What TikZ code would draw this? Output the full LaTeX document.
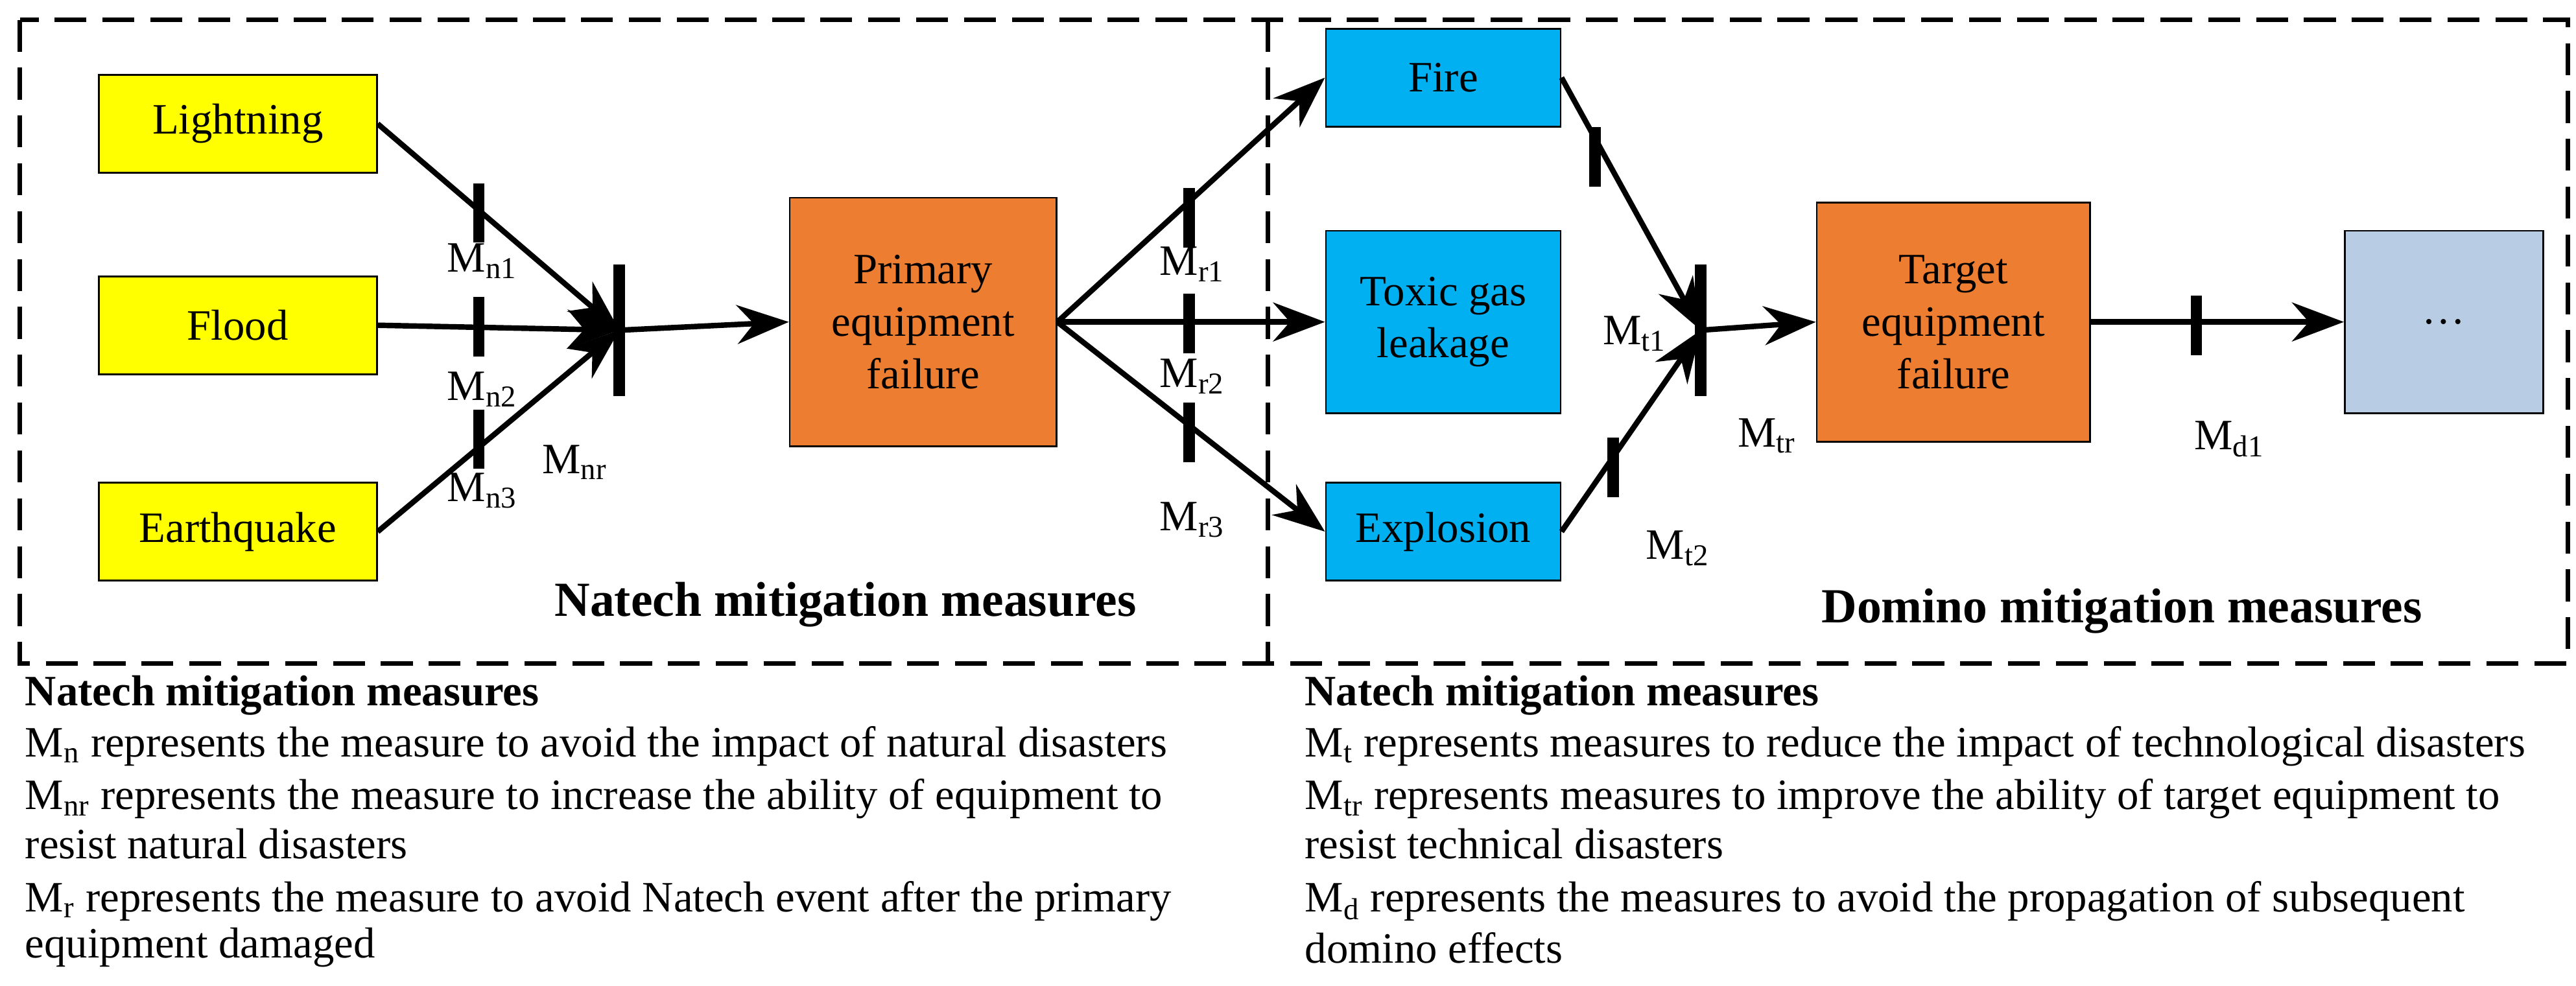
\documentclass[tikz,border=0pt]{standalone}
\usepackage{fontspec}
\setmainfont{Liberation Serif}
\usetikzlibrary{arrows.meta,positioning}
\definecolor{hazyellow}{RGB}{255,255,0}
\definecolor{eventorange}{RGB}{237,125,49}
\definecolor{eventblue}{RGB}{0,176,240}
\definecolor{nextblue}{RGB}{184,204,228}
\tikzset{
  box/.style={draw=black,thick,minimum width=122pt,minimum height=43pt,align=center,font=\fontsize{19}{23}\selectfont},
  flow/.style={line width=2.4pt,-{Stealth[length=8mm,width=6mm]}},
  barrier/.style={line width=5pt},
  mlab/.style={font=\fontsize{19}{23}\selectfont},
  note/.style={anchor=west,inner sep=0,font=\fontsize{19}{22}\selectfont}
}
\begin{document}
\begin{tikzpicture}[x=0.02547cm,y=-0.02547cm]
\useasboundingbox (0,0) rectangle (1560,597);
                % frames
                \draw[line width=2pt,dash pattern=on 14pt off 7pt] (12,12) rectangle (1555,402);
                \draw[line width=2pt,dash pattern=on 14pt off 7pt] (768,12) -- (768,402);
                % events
                \node[box,fill=hazyellow] (light) at (144,75) {Lightning};
                \node[box,fill=hazyellow] (flood) at (144,197) {Flood};
                \node[box,fill=hazyellow] (quake) at (144,322) {Earthquake};
                \node[box,fill=eventorange,minimum width=117pt,minimum height=109pt] (prim) at (559,195) {Primary\\equipment\\failure};
                \node[box,fill=eventblue,minimum width=103pt] (fire) at (874,47) {Fire};
                \node[box,fill=eventblue,minimum width=103pt,minimum height=80pt] (toxic) at (874,195) {Toxic gas\\leakage};
                \node[box,fill=eventblue,minimum width=103pt] (expl) at (874,322) {Explosion};
                \node[box,fill=eventorange,minimum width=120pt,minimum height=105pt] (targ) at (1183,195) {Target\\equipment\\failure};
                \node[box,fill=nextblue,minimum width=87pt,minimum height=80pt] (next) at (1480,195) {\dots};
                % junctions
                \coordinate (jn) at (375,200);
                \coordinate (jt) at (1030,200);
                \draw[barrier] (375,160) -- (375,240);
                \draw[barrier] (1030,160) -- (1030,240);
                \draw[flow] (light.east) -- (jn);
                \draw[flow] (flood.east) -- (jn);
                \draw[flow] (quake.east) -- (jn);
                \draw[flow] (jn) -- (prim.west);
                \draw[flow] (prim.east) -- (fire.west);
                \draw[flow] (prim.east) -- (toxic.west);
                \draw[flow] (prim.east) -- (expl.west);
                \draw[flow] (fire.east) -- (jt);
                \draw[flow] (expl.east) -- (jt);
                \draw[flow] (jt) -- (targ.west);
                \draw[flow] (targ.east) -- (next.west);
                % barriers on links
                \foreach \x/\y in {290/129,290/198,290/266,720/132,720/196,720/262,966/95,977/283,1330/197}
                  \draw[barrier] (\x,\y-18) -- (\x,\y+18);
                % barrier labels
                \node[mlab] at (292,158) {M\textsubscript{n1}};
                \node[mlab] at (292,236) {M\textsubscript{n2}};
                \node[mlab] at (292,297) {M\textsubscript{n3}};
                \node[mlab] at (348,280) {M\textsubscript{nr}};
                \node[mlab] at (722,160) {M\textsubscript{r1}};
                \node[mlab] at (722,228) {M\textsubscript{r2}};
                \node[mlab] at (722,315) {M\textsubscript{r3}};
                \node[mlab] at (990,202) {M\textsubscript{t1}};
                \node[mlab] at (1070,264) {M\textsubscript{tr}};
                \node[mlab] at (1016,332) {M\textsubscript{t2}};
                \node[mlab] at (1350,266) {M\textsubscript{d1}};
                \node[font=\fontsize{21.5}{25}\selectfont\bfseries] at (512,366) {Natech mitigation measures};
                \node[font=\fontsize{21.5}{25}\selectfont\bfseries] at (1285,370) {Domino mitigation measures};
                % notes
                \node[note,font=\fontsize{19}{22}\selectfont\bfseries] at (15,421) {Natech mitigation measures};
                \node[note] at (15,452) {M\textsubscript{n} represents the measure to avoid the impact of natural disasters};
                \node[note] at (15,484) {M\textsubscript{nr} represents the measure to increase the ability of equipment to};
                \node[note] at (15,511) {resist natural disasters};
                \node[note] at (15,546) {M\textsubscript{r} represents the measure to avoid Natech event after the primary};
                \node[note] at (15,574) {equipment damaged};
                \node[note,font=\fontsize{19}{22}\selectfont\bfseries] at (790,421) {Natech mitigation measures};
                \node[note] at (790,452) {M\textsubscript{t} represents measures to reduce the impact of technological disasters};
                \node[note] at (790,484) {M\textsubscript{tr} represents measures to improve the ability of target equipment to};
                \node[note] at (790,511) {resist technical disasters};
                \node[note] at (790,546) {M\textsubscript{d} represents the measures to avoid the propagation of subsequent};
                \node[note] at (790,574) {domino effects};
\end{tikzpicture}
\end{document}
